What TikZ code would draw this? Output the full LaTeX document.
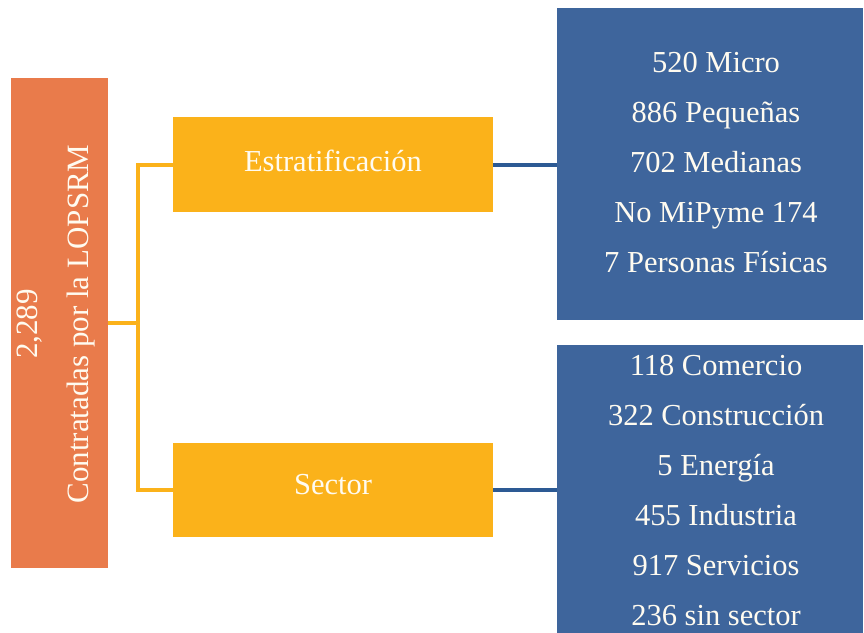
\documentclass[tikz,border=0pt]{standalone}
\usepackage{fontspec}
\setmainfont{Liberation Serif}
\definecolor{orangebox}{HTML}{E97B4B}
\definecolor{amberbox}{HTML}{FBB21A}
\definecolor{bluebox}{HTML}{3E659C}
\definecolor{blueline}{HTML}{2D5A94}
\definecolor{txtcol}{HTML}{FFFBF0}
\begin{document}
\begin{tikzpicture}[x=1pt,y=-1pt,
  box/.style={draw=none,minimum width=#1,inner sep=0pt,outer sep=0pt},
  txt/.style={text=txtcol,font=\fontsize{30.5}{50}\selectfont,anchor=base,inner sep=0pt},
  rtxt/.style={txt,rotate=90,font=\fontsize{31}{50}\selectfont},
  orline/.style={draw=amberbox,line width=4pt},
  blline/.style={draw=blueline,line width=4pt}]
\useasboundingbox (0,0) rectangle (864,632);
% boxes
\node[box=97pt,fill=orangebox,minimum height=490pt] (org) at (59.5,323) {};
\node[box=320pt,fill=amberbox,minimum height=95pt] (estr) at (333,164.5) {};
\node[box=320pt,fill=amberbox,minimum height=94pt] (sect) at (333,490) {};
\begin{scope}
\clip (0,0) rectangle (864,632);
\node[box=306pt,fill=bluebox,minimum height=312pt] (b1) at (710,164) {};
\node[box=306pt,fill=bluebox,minimum height=300pt] (b2) at (710,495) {};
\end{scope}
% connectors
\draw[orline] (org.east) -- ++(30,0) coordinate (j);
\draw[orline] (estr.west) -| (j) |- (sect.west);
\draw[blline] (estr.east) -- (estr.east -| b1.west);
\draw[blline] (sect.east) -- (sect.east -| b2.west);
% texts
\node[rtxt] (t1) at (37,324) {2,289};
\node[rtxt] (t2) at (88,324) {Contratadas por la LOPSRM};
\node[txt] (e) at (333,171) {Estratificación};
\node[txt] (s) at (333,494) {Sector};
\node[txt] (a1) at (716,72) {520 Micro};
\node[txt] (a2) at (716,122) {886 Pequeñas};
\node[txt] (a3) at (716,172) {702 Medianas};
\node[txt] (a4) at (716,222) {No MiPyme 174};
\node[txt] (a5) at (716,272) {7 Personas Físicas};
\node[txt] (c1) at (716,375) {118 Comercio};
\node[txt] (c2) at (716,425) {322 Construcción};
\node[txt] (c3) at (716,475) {5 Energía};
\node[txt] (c4) at (716,525) {455 Industria};
\node[txt] (c5) at (716,575) {917 Servicios};
\node[txt] (c6) at (716,625) {236 sin sector};
\end{tikzpicture}
\end{document}
